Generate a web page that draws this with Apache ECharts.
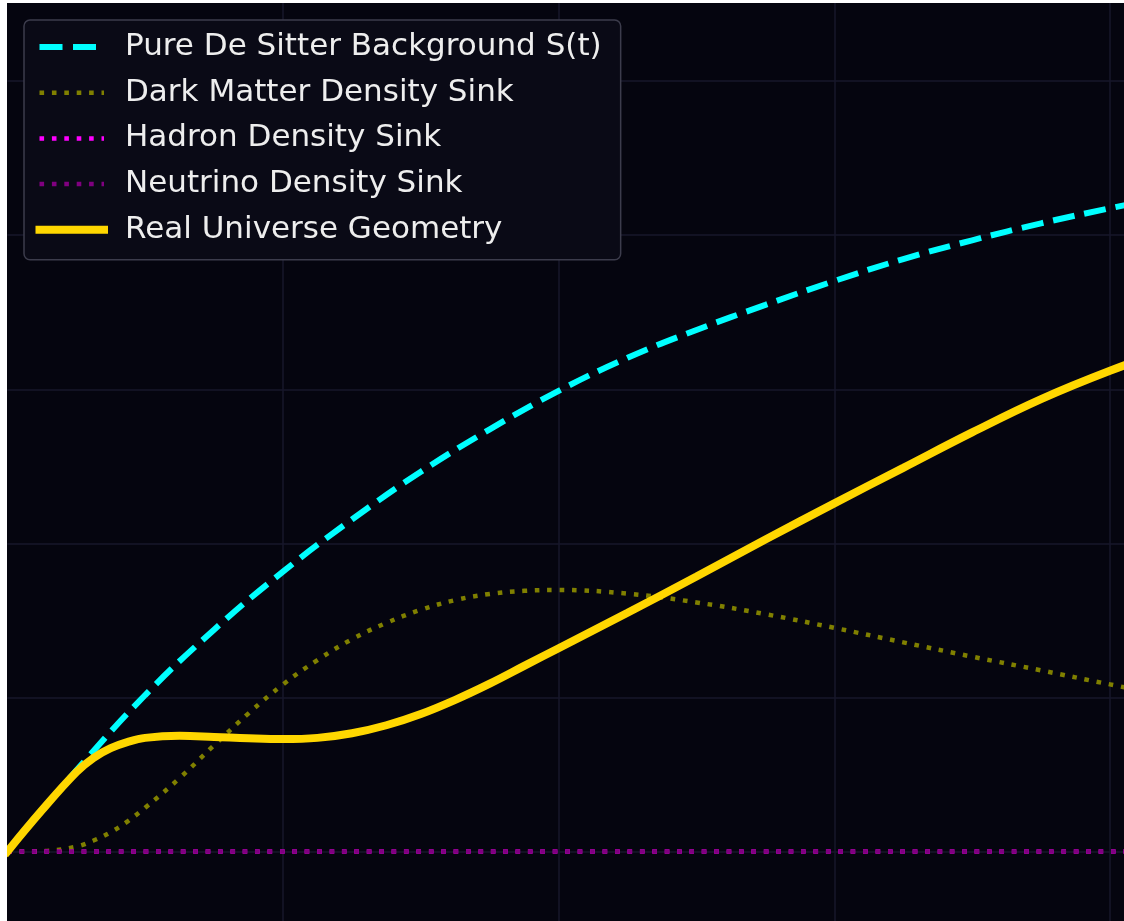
<!DOCTYPE html>
<html>
<head>
<meta charset="utf-8">
<script src="https://cdn.jsdelivr.net/npm/echarts@6/dist/echarts.min.js"></script>
<style>
  html, body { margin: 0; padding: 0; background: #ffffff; width: 1124px; height: 921px; overflow: hidden; }
  #frame { position: absolute; left: 7px; top: 3px; width: 1117px; height: 918px; overflow: hidden; background: #05050f; }
  #chart { position: absolute; left: 0; top: -76px; width: 1380px; height: 1080px; }
</style>
</head>
<body>
<div id="frame"><div id="chart"></div></div>
<script>
// Cosmic time samples (arbitrary units) and the scale-factor curves drawn on them.
const coarseTime = [0, 0.5, 1, 1.5, 2, 2.5, 3, 3.5, 4, 4.5, 5, 5.5, 6, 6.5, 7, 7.5, 8, 8.5];
const fineTime = [0, 0.25, 0.5, 0.625, 0.75, 0.875, 1, 1.25, 1.5, 1.75, 2, 2.25, 2.5, 2.75, 3, 3.25, 3.5,
                  3.75, 4, 4.5, 5, 5.5, 6, 6.5, 7, 7.5, 8, 8.5];
const sinkTime = [0, 8.5];

// Pure de Sitter background S(t)
const deSitter = [0, 0.526, 1.016, 1.44, 1.817, 2.155, 2.465, 2.74, 2.99, 3.205, 3.385, 3.548,
                  3.703, 3.845, 3.967, 4.077, 4.175, 4.265];
// Dark matter density sink
const darkMatterSink = [0, 0.003, 0.032, 0.072, 0.126, 0.198, 0.285, 0.477, 0.69, 0.897, 1.085, 1.243,
                        1.378, 1.484, 1.569, 1.632, 1.672, 1.692, 1.698, 1.674, 1.617, 1.541, 1.452,
                        1.358, 1.265, 1.176, 1.085, 0.995];
// Hadron and neutrino density sinks
const hadronSink = [0, 0];
const neutrinoSink = [0, 0];
// Real universe geometry
const realGeometry = [0, 0.267, 0.515, 0.608, 0.671, 0.712, 0.738, 0.751, 0.744, 0.735, 0.730, 0.738,
                      0.768, 0.82, 0.893, 0.985, 1.09, 1.205, 1.32, 1.55, 1.785, 2.025, 2.26, 2.49,
                      2.72, 2.936, 3.12, 3.28];

const seriesNames = [
  'Pure De Sitter Background S(t)',
  'Dark Matter Density Sink',
  'Hadron Density Sink',
  'Neutrino Density Sink',
  'Real Universe Geometry'
];

const pairs = (xs, ys) => xs.map((x, i) => [x, ys[i]]);

const styles = [
  { color: '#00ffff', width: 6, type: [22, 10], legendType: [23, 10.5], cap: 'butt' },
  { color: '#808000', width: 4.5, type: [4.6, 7.8], legendType: [4.6, 7.8], cap: 'butt' },
  { color: '#ff00ff', width: 4.5, type: [4.6, 7.8], legendType: [4.6, 7.8], cap: 'butt' },
  { color: '#800080', width: 4.5, type: [4.6, 7.8], legendType: [4.6, 7.8], cap: 'butt' },
  { color: '#ffd700', width: 8, type: 'solid', legendType: 'solid', cap: 'square' }
];

const seriesData = [
  pairs(coarseTime, deSitter),
  pairs(fineTime, darkMatterSink),
  pairs(sinkTime, hadronSink),
  pairs(sinkTime, neutrinoSink),
  pairs(fineTime, realGeometry)
];

const chart = echarts.init(document.getElementById('chart'), null, { renderer: 'canvas' });

chart.setOption({
  animation: false,
  backgroundColor: '#05050f',
  grid: { left: 0.33, top: 0, width: 1378.3, height: 1078.7 },
  xAxis: {
    type: 'value', min: 0, max: 10, interval: 2,
    axisLine: { show: false }, axisTick: { show: false }, axisLabel: { show: false },
    splitLine: { show: true, showMinLine: false, lineStyle: { color: '#17172b', width: 1.5 } }
  },
  yAxis: {
    type: 'value', min: -1, max: 6, interval: 1,
    axisLine: { show: false }, axisTick: { show: false }, axisLabel: { show: false },
    splitLine: { show: true, lineStyle: { color: '#17172b', width: 1.5 } }
  },
  legend: {
    orient: 'vertical',
    left: 17, top: 93,
    padding: [9, 19, 12, 11.5],
    itemGap: 9.7,
    itemWidth: 64.5,
    itemHeight: 1,
    selectedMode: false,
    backgroundColor: '#0a0a16',
    borderColor: '#3c3c4c',
    borderWidth: 1.5,
    borderRadius: 6,
    itemStyle: { opacity: 0 },
    textStyle: {
      color: '#eeeeee', fontSize: 31, fontFamily: 'DejaVu Sans',
      lineHeight: 36, padding: [0, 0, 0, 16]
    },
    data: seriesNames.map((name, i) => ({
      name,
      itemStyle: { opacity: 0 },
      lineStyle: { color: styles[i].color, width: styles[i].width, type: styles[i].legendType, cap: styles[i].cap, opacity: 1 }
    }))
  },
  series: seriesNames.map((name, i) => ({
    name,
    type: 'line',
    data: seriesData[i],
    symbol: 'none',
    showSymbol: false,
    smooth: 0.4,
    silent: true,
    clip: true,
    lineStyle: { color: styles[i].color, width: styles[i].width, type: styles[i].type, cap: styles[i].cap },
    itemStyle: { color: styles[i].color }
  }))
});
</script>
</body>
</html>
